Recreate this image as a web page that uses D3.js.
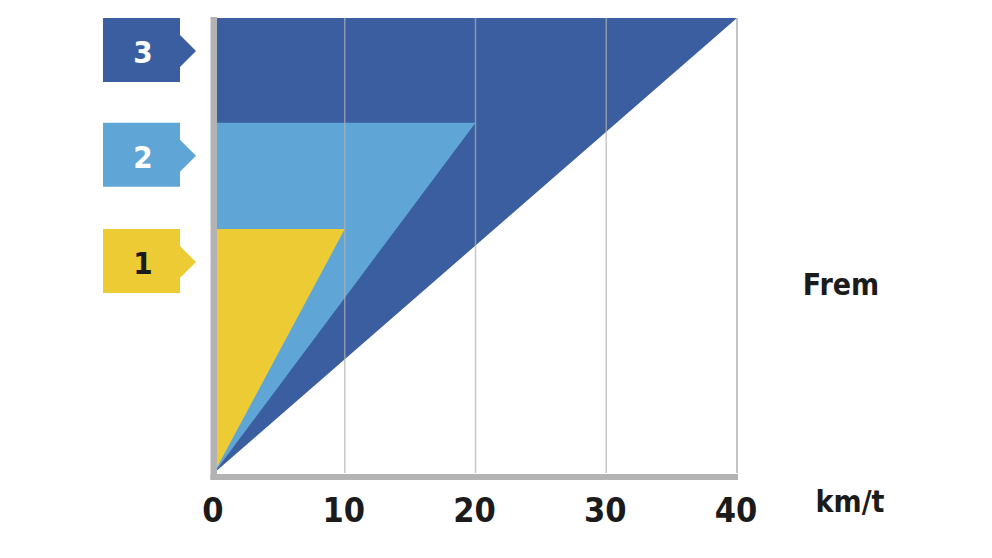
<!DOCTYPE html>
<html>
<head>
<meta charset="utf-8">
<script src="https://cdn.jsdelivr.net/npm/d3@7"></script>
<style>
  html, body { margin: 0; padding: 0; background: #fff; }
  svg { display: block; }
</style>
</head>
<body>
<svg id="chart" width="992" height="558"></svg>
<script>
// ---- data ----
const levelLabels = ["1", "2", "3"];
const levelSpeeds = [10, 20, 40];          // km/t where each wedge ends
const levelHeights = [53.6, 77, 100];      // "Frem" height of each level (relative units)
const xTicks = [0, 10, 20, 30, 40];
const xUnit = "km/t";
const yTitle = "Frem";

// ---- styles ----
const fillColors = ["#ECCB35", "#5FA6D7", "#3A5E9F"];
const labelTextColors = ["#1b1b1b", "#ffffff", "#ffffff"];
const axisGray = "#b3b3b3";

const svg = d3.select("#chart");
const x = d3.scaleLinear().domain([0, 40]).range([214, 737]);
const y = d3.scaleLinear().domain([0, 100]).range([473, 18]);

const levels = levelLabels.map((l, i) => ({
  label: l, speed: levelSpeeds[i], h: levelHeights[i],
  fill: fillColors[i], text: labelTextColors[i]
}));

// wedges, drawn largest first
const line = d3.line().x(d => x(d[0])).y(d => y(d[1]));
svg.append("g").selectAll("path")
  .data(levels.slice().reverse())
  .join("path")
  .attr("d", d => line([[0, 0], [d.speed, d.h], [0, d.h]]) + "Z")
  .attr("fill", d => d.fill);

// vertical grid lines
svg.append("g").selectAll("line")
  .data(xTicks.filter(t => t > 0))
  .join("line")
  .attr("x1", d => x(d)).attr("x2", d => x(d))
  .attr("y1", y(100)).attr("y2", y(0))
  .attr("stroke", "#b0b0b0")
  .attr("stroke-opacity", d => d === 40 ? 1 : 0.7)
  .attr("stroke-width", 1.5);

// thick axis bars
svg.append("rect")
  .attr("x", 210.5).attr("y", y(100) - 1)
  .attr("width", 6.5).attr("height", y(0) - y(100) + 8)
  .attr("fill", axisGray);
svg.append("rect")
  .attr("x", 210.5).attr("y", y(0) + 1)
  .attr("width", x(40) - 210.5 + 1).attr("height", 6)
  .attr("fill", axisGray);

// x axis labels
const xAxis = d3.axisBottom(x).tickValues(xTicks).tickSize(0).tickPadding(0).tickFormat(d3.format("d"));
const gx = svg.append("g").attr("transform", "translate(-1.5,0)").call(xAxis);
gx.select(".domain").remove();
gx.selectAll("text")
  .attr("y", 522).attr("dy", null)
  .attr("fill", "#1b1b1b")
  .style("font-family", "'DejaVu Sans Condensed', 'DejaVu Sans', sans-serif")
  .style("font-weight", "bold")
  .style("font-size", "34px");

// unit and axis title
svg.append("text")
  .attr("x", 850).attr("y", 512)
  .attr("text-anchor", "middle")
  .attr("fill", "#1b1b1b")
  .style("font-family", "'DejaVu Sans Condensed', 'DejaVu Sans', sans-serif")
  .style("font-weight", "bold").style("font-size", "30px")
  .text(xUnit);
svg.append("text")
  .attr("x", 841).attr("y", 295)
  .attr("text-anchor", "middle")
  .attr("fill", "#1b1b1b")
  .style("font-family", "'DejaVu Sans Condensed', 'DejaVu Sans', sans-serif")
  .style("font-weight", "bold").style("font-size", "30px")
  .text(yTitle);

// level tags with arrow
const tags = svg.append("g").selectAll("g")
  .data(levels)
  .join("g")
  .attr("transform", d => `translate(0,${y(d.h)})`);
tags.append("path")
  .attr("d", "M103,0 H180 V17 L196,33 L180,49 V64 H103 Z")
  .attr("fill", d => d.fill);
tags.append("text")
  .attr("x", 143).attr("y", 45)
  .attr("text-anchor", "middle")
  .attr("fill", d => d.text)
  .style("font-family", "'DejaVu Sans Condensed', 'DejaVu Sans', sans-serif")
  .style("font-weight", "bold").style("font-size", "31px")
  .text(d => d.label);
</script>
</body>
</html>
